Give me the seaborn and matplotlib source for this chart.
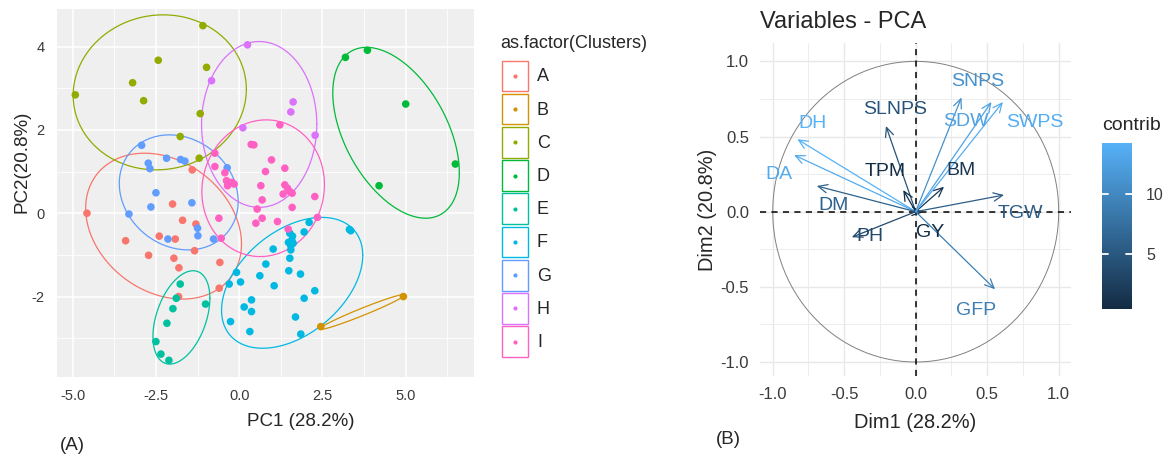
import numpy as np
import pandas as pd
import matplotlib
matplotlib.use("Agg")
import matplotlib.pyplot as plt
import matplotlib.patches as mpatches
import seaborn as sns
from matplotlib.colors import LinearSegmentedColormap, Normalize
from matplotlib.cm import ScalarMappable

# ---------------- Panel A data (PC scores per cluster) ----------------
clusters = ["A", "B", "C", "D", "E", "F", "G", "H", "I"]
cluster_colors = ["#F8766D", "#D39200", "#93AA00", "#00BA38", "#00C19F",
                  "#00B9E3", "#619CFF", "#DB72FB", "#FF61C3"]

pc1_A = [-4.57, -3.41, -2.72, -2.40, -2.00, -1.92, -1.96, -1.81, -1.70, -1.41, -1.30, -1.34, -0.58, -0.60, -1.82]
pc2_A = [0.00, -0.66, -1.01, -0.55, 0.22, -0.62, -1.08, -1.31, -0.17, 1.04, -0.26, -0.90, -1.18, -1.80, -2.00]
pc1_B = [2.45, 4.93]
pc2_B = [-2.72, -2.00]
pc1_C = [-4.92, -2.43, -3.20, -2.87, -1.09, -0.98, -1.17, -1.77, -1.20]
pc2_C = [2.84, 3.67, 3.13, 2.70, 4.50, 3.50, 2.39, 1.84, 1.32]
pc1_D = [3.19, 3.85, 5.00, 6.49, 4.20]
pc2_D = [3.74, 3.91, 2.62, 1.18, 0.66]
pc1_E = [-1.77, -1.89, -1.99, -1.01, -2.17, -2.50, -2.35, -2.11]
pc2_E = [-1.70, -2.04, -2.29, -2.18, -2.64, -3.08, -3.38, -3.53]
pc1_F = [2.10, 1.95, 3.31, 3.35, 1.52, 1.60, 1.58, 1.48, 1.55, 1.62, 1.55, 1.02, 1.52, 0.80, -0.08,
         0.62, 1.49, 1.84, -0.30, 0.04, 1.05, 2.27, 1.95, 0.37, 0.15, 0.37, 1.69, -0.26, 0.32, 1.85]
pc2_F = [-0.22, -0.45, -0.39, -0.42, -0.48, -0.55, -0.65, -0.70, -0.78, -0.72, -0.88, -0.86, -1.08, -1.22, -1.42,
         -1.50, -1.38, -1.46, -1.70, -1.65, -1.74, -1.86, -2.04, -2.08, -2.25, -2.36, -2.49, -2.60, -2.84, -2.90]
pc1_G = [-2.93, -2.18, -2.73, -2.68, -1.76, -1.63, -2.50, -2.65, -3.31, -1.42, -1.25, -1.24, -2.14, -0.77, -0.36]
pc2_G = [1.63, 1.32, 1.20, 1.07, 1.29, 1.25, 0.49, 0.15, -0.02, 0.25, -0.36, -0.54, -0.62, -0.62, 1.09]
pc1_H = [0.25, -0.83, 1.62, 1.55, 0.11, 2.28]
pc2_H = [4.04, 3.18, 2.67, 2.43, 2.05, 1.87]
pc1_I = [1.22, 0.36, 0.44, -0.73, 0.97, -0.73, 0.79, 1.37, -0.43, -0.38, -0.30, -0.22, -0.15, -0.35, 0.65,
         1.37, 1.52, 1.32, 1.59, 1.45, 0.69, 2.27, 0.54, 1.59, -0.61, 0.69, 0.50, 1.15, 2.35, -0.54, 1.47]
pc2_I = [2.12, 1.65, 1.64, 1.44, 1.28, 1.12, 1.00, 1.08, 0.97, 0.78, 0.72, 0.74, 0.70, 0.66, 0.66,
         0.68, 0.52, 0.46, 0.48, 0.60, 0.32, 0.40, 0.10, 0.14, -0.12, -0.12, -0.24, -0.20, -0.10, -0.60, -0.38]

# Ellipse parameters per cluster (centre, half x-extent, half y-extent, correlation)
ell_cx = [-2.27, 3.69, -2.385, 4.71, -1.735, 1.59, -1.815, 0.60, 0.72]
ell_cy = [-0.31, -2.37, 2.90, 1.93, -2.50, -1.67, 0.50, 2.13, 0.60]
ell_sx = [2.34, 1.28, 2.60, 1.90, 0.855, 2.12, 1.785, 1.73, 1.84]
ell_sy = [1.75, 0.42, 1.86, 2.05, 1.12, 1.57, 1.38, 1.99, 1.64]
ell_rho = [-0.245, 0.975, 0.04, -0.467, 0.41, 0.42, -0.156, 0.0, 0.05]

# ---------------- Panel B data (variables) ----------------
var_names = ["DH", "DA", "DM", "PH", "SLNPS", "TPM", "GY", "BM", "TGW", "GFP", "SNPS", "SDW", "SWPS"]
var_dim1 = [-0.828, -0.851, -0.692, -0.447, -0.208, -0.087, 0.05, 0.198, 0.618, 0.555, 0.32, 0.53, 0.61]
var_dim2 = [0.482, 0.377, 0.171, -0.17, 0.57, 0.144, -0.005, 0.166, 0.111, -0.516, 0.76, 0.73, 0.73]
var_contrib = [14.2, 13.6, 6.0, 3.5, 4.5, 0.6, 0.4, 1.5, 5.5, 9.0, 10.9, 12.6, 13.8]
lab_dim1 = [-0.72, -0.954, -0.572, -0.32, -0.145, -0.215, 0.10, 0.317, 0.729, 0.42, 0.43, 0.35, 0.83]
lab_dim2 = [0.584, 0.244, 0.038, -0.162, 0.681, 0.266, -0.137, 0.273, -0.011, -0.654, 0.865, 0.60, 0.595]
contrib_min, contrib_max = 0.36, 14.2
contrib_ticks = [5, 10]

# ---------------- figure ----------------
W, H = 1166, 458
DPI = 100
sns.set_theme(style="white")
plt.rcParams["font.family"] = ["Liberation Sans", "DejaVu Sans"]

fig = plt.figure(figsize=(W / DPI, H / DPI), dpi=DPI)
fig.patch.set_facecolor("white")

def fx(px):
    return px / W

def fy(py):
    return 1 - py / H

# ---------- Panel A ----------
axA = fig.add_axes([fx(57), fy(377), 417 / W, 368 / H])
axA.set_facecolor("#EFEFEF")

pc1_all = [pc1_A, pc1_B, pc1_C, pc1_D, pc1_E, pc1_F, pc1_G, pc1_H, pc1_I]
pc2_all = [pc2_A, pc2_B, pc2_C, pc2_D, pc2_E, pc2_F, pc2_G, pc2_H, pc2_I]
rows = []
for cl, xs, ys in zip(clusters, pc1_all, pc2_all):
    for x, y in zip(xs, ys):
        rows.append((cl, x, y))
dfA = pd.DataFrame(rows, columns=["Cluster", "PC1", "PC2"])

sns.scatterplot(data=dfA, x="PC1", y="PC2", hue="Cluster", hue_order=clusters,
                palette=cluster_colors, s=30, linewidth=0, legend=False, ax=axA, zorder=3)

t = np.linspace(0, 2 * np.pi, 300)
for i, cl in enumerate(clusters):
    sx, sy, r = ell_sx[i], ell_sy[i], ell_rho[i]
    cov = np.array([[sx * sx, r * sx * sy], [r * sx * sy, sy * sy]])
    L = np.linalg.cholesky(cov)
    pts = L @ np.vstack([np.cos(t), np.sin(t)])
    axA.plot(ell_cx[i] + pts[0], ell_cy[i] + pts[1], color=cluster_colors[i], lw=0.9, zorder=2)

axA.set_xlim(-5.47, 7.05)
axA.set_ylim(-3.93, 4.9)
axA.set_xticks([-5, -2.5, 0, 2.5, 5])
axA.set_xticklabels(["-5.0", "-2.5", "0.0", "2.5", "5.0"])
axA.set_xticks([-3.75, -1.25, 1.25, 3.75, 6.25], minor=True)
axA.set_yticks([-2, 0, 2, 4])
axA.set_yticklabels(["-2", "0", "2", "4"])
axA.set_yticks([-3, -1, 1, 3], minor=True)
axA.grid(which="major", color="white", lw=1.1, zorder=0)
axA.grid(which="minor", color="white", lw=0.55, zorder=0)
axA.set_axisbelow(True)
for s in axA.spines.values():
    s.set_visible(False)
axA.tick_params(which="major", length=3, width=0.8, color="#333333", labelsize=10.5,
                labelcolor="#3A3A3A", pad=6)
axA.tick_params(which="minor", length=0)
axA.set_xlabel("")
axA.set_ylabel("")

fig.text(fx(301), fy(421.5), "PC1 (28.2%)", ha="center", va="center", fontsize=13.5)
fig.text(fx(22.5), fy(162), "PC2(20.8%)", ha="center", va="center", rotation=90, fontsize=13.5)
fig.text(fx(60), fy(445), "(A)", ha="left", va="center", fontsize=13.5)

# legend (drawn in pixel space)
axL = fig.add_axes([fx(495), fy(370), 120 / W, 345 / H])
axL.set_xlim(495, 615)
axL.set_ylim(370, 25)
axL.axis("off")
axL.text(500.5, 43.5, "as.factor(Clusters)", ha="left", va="center", fontsize=13)
for i, cl in enumerate(clusters):
    cy = 76 + 33.2 * i
    axL.add_patch(mpatches.Rectangle((502, cy - 15.3), 25.7, 30.6, fill=False,
                                     edgecolor=cluster_colors[i], lw=1.0))
    axL.scatter([514.8], [cy], s=9, color=cluster_colors[i], linewidths=0)
    axL.text(537, cy + 1, cl, ha="left", va="center", fontsize=13)

# ---------- Panel B ----------
axB = fig.add_axes([fx(760), fy(376), 310.7 / W, 333.3 / H])
axB.set_facecolor("white")
axB.set_xlim(-1.089, 1.084)
axB.set_ylim(-1.093, 1.124)
ticksB = [-1, -0.5, 0, 0.5, 1]
tlabB = ["-1.0", "-0.5", "0.0", "0.5", "1.0"]
axB.set_xticks(ticksB)
axB.set_xticklabels(tlabB)
axB.set_yticks(ticksB)
axB.set_yticklabels(tlabB)
axB.set_xticks([-0.75, -0.25, 0.25, 0.75], minor=True)
axB.set_yticks([-0.75, -0.25, 0.25, 0.75], minor=True)
axB.grid(which="major", color="#E8E8E8", lw=1.0, zorder=0)
axB.grid(which="minor", color="#EDEDED", lw=0.7, zorder=0)
axB.set_axisbelow(True)
for s in axB.spines.values():
    s.set_visible(False)
axB.tick_params(which="major", length=4, width=1.0, color="#333333", labelsize=12,
                labelcolor="#3A3A3A", pad=4)
axB.tick_params(which="minor", length=0)

axB.plot(np.cos(t), np.sin(t), color="#808080", lw=0.7, zorder=1)
axB.axhline(0, color="black", lw=1.1, ls=(0, (4, 3.5)), zorder=1)
axB.axvline(0, color="black", lw=1.1, ls=(0, (4, 3.5)), zorder=1)

cmap = LinearSegmentedColormap.from_list("contrib", ["#132B43", "#56B1F7"])
norm = Normalize(vmin=contrib_min, vmax=contrib_max)

for i, name in enumerate(var_names):
    c = cmap(norm(var_contrib[i]))
    axB.annotate("", xy=(var_dim1[i], var_dim2[i]), xytext=(0, 0),
                 arrowprops=dict(arrowstyle="->,head_length=0.55,head_width=0.25",
                                 color=c, lw=0.9, shrinkA=0, shrinkB=0,
                                 mutation_scale=12), zorder=3)
    axB.text(lab_dim1[i], lab_dim2[i], name, color=c, fontsize=14,
             ha="center", va="center", zorder=4)

fig.text(fx(760), fy(22), "Variables - PCA", ha="left", va="center", fontsize=17)
fig.text(fx(915), fy(422.7), "Dim1 (28.2%)", ha="center", va="center", fontsize=14.4)
fig.text(fx(707.5), fy(210), "Dim2 (20.8%)", ha="center", va="center", rotation=90, fontsize=14.4)
fig.text(fx(716), fy(440), "(B)", ha="left", va="center", fontsize=13.5)

# colorbar
cax = fig.add_axes([fx(1101.7), fy(309.3), 30.6 / W, 166 / H])
sm = ScalarMappable(norm=norm, cmap=cmap)
sm.set_array([])
cb = fig.colorbar(sm, cax=cax, ticks=contrib_ticks)
cb.outline.set_visible(False)
cax.tick_params(length=0, labelsize=11.5, labelcolor="#3A3A3A", pad=10)
cax.set_yticklabels([str(v) for v in contrib_ticks])
ytr = cax.get_yaxis_transform()
for v in contrib_ticks:
    cax.plot([0, 0.2], [v, v], color="white", lw=1.3, transform=ytr, zorder=5, clip_on=False)
    cax.plot([0.8, 1.0], [v, v], color="white", lw=1.3, transform=ytr, zorder=5, clip_on=False)
fig.text(fx(1101.7), fy(126), "contrib", ha="left", va="center", fontsize=14)

fig.savefig("out.png", dpi=DPI, facecolor="white")
